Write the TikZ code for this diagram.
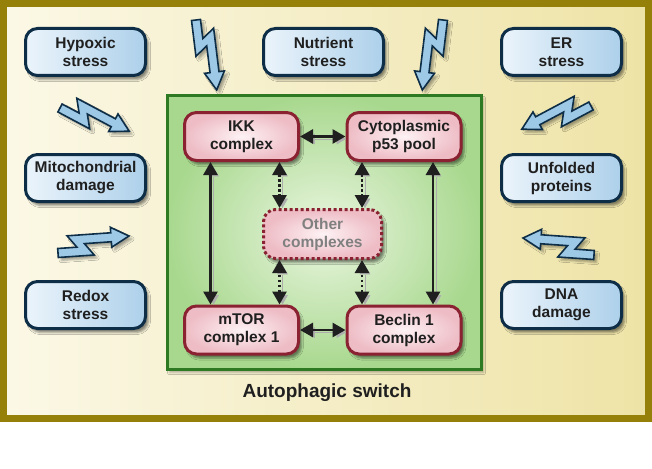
\documentclass[tikz,border=0pt]{standalone}
\usepackage{fontspec}
\setmainfont{Liberation Sans}
\usetikzlibrary{arrows.meta,shadows.blur}

\definecolor{frameolive}{HTML}{95800A}
\definecolor{creamleft}{HTML}{FBF8E6}
\definecolor{creamright}{HTML}{EEE3A6}
\definecolor{stressline}{HTML}{0E2E47}
\definecolor{stresslight}{HTML}{EBF4FB}
\definecolor{stressdark}{HTML}{ADD0EA}
\definecolor{boltfill}{HTML}{9DC9E7}
\definecolor{switchline}{HTML}{2E7A22}
\definecolor{switchlight}{HTML}{EAF6E0}
\definecolor{switchdark}{HTML}{A8D88E}
\definecolor{cplxline}{HTML}{8A2232}
\definecolor{cplxlight}{HTML}{FDF2F4}
\definecolor{cplxdark}{HTML}{EEBCC5}
\definecolor{inktext}{HTML}{1F1F1F}

\tikzset{
	stressbolt/.pic = {
		\draw[draw = stressline, line width = 1.6pt, fill = boltfill,
			blur shadow = {shadow xshift = 3pt, shadow yshift = -3pt, shadow opacity = 35}]
		(0,4.5) -- (36,4.5) -- (27,-7.5) -- (54,-7.5) -- (54,-2) -- (72,-12) -- (54,-22)
		-- (54,-16.5) -- (10.25,-16.5) -- (19.25,-4.5) -- (0,-4.5) -- cycle;
	}
}

\begin{document}
\begin{tikzpicture}[x = 1pt, y = -1pt,
	boxtext/.style = {align = center, text = inktext,
		font = \fontsize{15.5}{18}\selectfont\bfseries},
	stressbox/.style = {boxtext, draw = stressline, line width = 3pt, rounded corners = 12pt,
		left color = stresslight, right color = stressdark,
		minimum width = 120pt, minimum height = 47pt,
		blur shadow = {shadow xshift = 3pt, shadow yshift = -4pt, shadow opacity = 45}},
	cplxbox/.style = {boxtext, draw = cplxline, line width = 3pt, rounded corners = 12pt,
		inner color = cplxlight, outer color = cplxdark,
		minimum width = 114pt, minimum height = 48pt,
		blur shadow = {shadow xshift = 3pt, shadow yshift = -4pt, shadow opacity = 45}},
	switchbox/.style = {draw = switchline, line width = 2.5pt,
		inner color = switchlight, outer color = switchdark,
		minimum width = 314pt, minimum height = 274pt,
		blur shadow = {shadow xshift = 2pt, shadow yshift = -3pt, shadow opacity = 30}},
	linkarrow/.style = {{Triangle[length = 13pt, width = 14pt]}-{Triangle[length = 13pt, width = 14pt]},
		line width = 2.8pt, draw = inktext,
		preaction = {draw = black!32, transform canvas = {xshift = 3pt, yshift = -2.5pt}}},
	dotlink/.style = {linkarrow, dash pattern = on 2.5pt off 2.5pt}
	]
	\useasboundingbox (0,0) rectangle (652,468);
	\draw[line width = 7pt, draw = frameolive, left color = creamleft, right color = creamright]
		(3.5,3.5) rectangle (648.5,418.5);

	\node[stressbox] (hypoxic) at (85.5,52) {Hypoxic\\stress};
	\node[stressbox] (nutrient) at (323.5,52) {Nutrient\\stress};
	\node[stressbox] (er) at (561.5,52) {ER\\stress};
	\node[stressbox] (mito) at (85.5,178) {Mitochondrial\\damage};
	\node[stressbox] (unfolded) at (561.5,178) {Unfolded\\proteins};
	\node[stressbox] (redox) at (85.5,305) {Redox\\stress};
	\node[stressbox] (dna) at (561.5,305) {DNA\\damage};

	\pic[shift = {(196,20)}, rotate = -83] {stressbolt};
	\pic[shift = {(443,20)}, xscale = -1, rotate = -83] {stressbolt};
	\pic[shift = {(60,108)}, rotate = -28] {stressbolt};
	\pic[shift = {(591,106)}, xscale = -1, rotate = -28] {stressbolt};
	\pic[shift = {(58,253)}, rotate = 4] {stressbolt};
	\pic[shift = {(594,255)}, xscale = -1, rotate = 4] {stressbolt};

	\node[switchbox] (switch) at (324.5,232.5) {};
	\node[boxtext, font = \fontsize{19}{22}\selectfont\bfseries] (title) at (327,393) {Autophagic switch};

	\node[cplxbox] (ikk) at (241.5,136.5) {IKK\\complex};
	\node[cplxbox] (p53) at (404,136.5) {Cytoplasmic\\p53 pool};
	\node[cplxbox] (mtor) at (241.5,330) {mTOR\\complex 1};
	\node[cplxbox] (beclin) at (404,330) {Beclin 1\\complex};
	\node[cplxbox, text = black!50, dash pattern = on 3pt off 2.5pt, minimum width = 118pt,
		minimum height = 49pt] (other) at (322.5,234) {Other\\complexes};

	\draw[linkarrow] (ikk) -- (p53);
	\draw[linkarrow] (mtor) -- (beclin);
	\draw[linkarrow] ([xshift = -31pt]ikk.south) -- ([xshift = -31pt]mtor.north);
	\draw[linkarrow] ([xshift = 29pt]p53.south) -- ([xshift = 29pt]beclin.north);
	\draw[dotlink] ([xshift = 38pt]ikk.south) -- ([xshift = 38pt]ikk.south |- other.north);
	\draw[dotlink] ([xshift = -42pt]p53.south) -- ([xshift = -42pt]p53.south |- other.north);
	\draw[dotlink] ([xshift = 38pt]mtor.north) -- ([xshift = 38pt]mtor.north |- other.south);
	\draw[dotlink] ([xshift = -42pt]beclin.north) -- ([xshift = -42pt]beclin.north |- other.south);
\end{tikzpicture}
\end{document}
